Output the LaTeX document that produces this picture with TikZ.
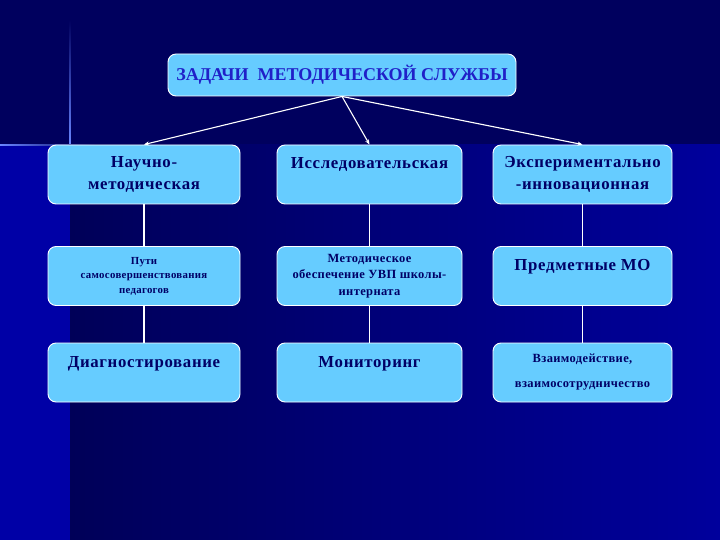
\documentclass[tikz,border=0pt]{standalone}
\usepackage{fontspec}
\setmainfont{Liberation Serif}
\usetikzlibrary{arrows.meta,positioning}
\definecolor{navytop}{HTML}{00005E}
\definecolor{navyleft}{HTML}{000058}
\definecolor{navyright}{HTML}{00009C}
\definecolor{stripblue}{HTML}{0000A6}
\definecolor{glowblue}{HTML}{6A86FF}
\definecolor{boxfill}{HTML}{66CCFF}
\definecolor{boxtext}{HTML}{000066}
\definecolor{titletext}{HTML}{2020C8}
\tikzset{
  task/.style={draw=white, line width=0.9pt, fill=boxfill, rounded corners=8pt, align=center,
    text=boxtext, inner sep=2pt, minimum height=59pt},
  colA/.style={task, minimum width=192pt},
  colB/.style={task, minimum width=185pt},
  colC/.style={task, minimum width=179pt},
  bigtxt/.style={font=\bfseries\fontsize{16.8}{22}\selectfont\addfontfeature{LetterSpace=4}},
  midtxt/.style={font=\bfseries\fontsize{12.5}{16.5}\selectfont\addfontfeature{LetterSpace=3}},
  tinytxt/.style={font=\bfseries\fontsize{10.8}{14.5}\selectfont\addfontfeature{LetterSpace=3}},
  link/.style={draw=white, line width=1.1pt},
  arrow/.style={link, -{Stealth[length=5pt,width=4pt]}}
}

\begin{document}
\begin{tikzpicture}[x=1pt,y=-1pt]
  % background
  \fill[navytop] (0,0) rectangle (720,145);
  \fill[stripblue] (0,145) rectangle (70,540);
  \shade[left color=navyleft, right color=navyright] (70,145) rectangle (720,540);
  \shade[top color=navytop, bottom color=glowblue] (69.2,20) rectangle (70.8,145);
  \shade[left color=glowblue, right color=navytop] (0,144.2) rectangle (95,145.8);
  \useasboundingbox (0,0) rectangle (720,540);

  \node[task, minimum width=348pt, minimum height=42pt, text=titletext,
    font=\bfseries\fontsize{18}{20}\selectfont] (title) at (342,75) {ЗАДАЧИ\ \ МЕТОДИЧЕСКОЙ СЛУЖБЫ};

  \node[colA, bigtxt] (nauch) at (144,174.5) {Научно-\\методическая};
  \node[colB, bigtxt] (issl) at (369.5,174.5) {Исследовательская\\\mbox{}};
  \node[colC, bigtxt] (eksp) at (582.5,174.5) {Экспериментально\\-инновационная};

  \node[colA, tinytxt] (puti) at (144,276) {Пути\\самосовершенствования\\педагогов};
  \node[colB, midtxt] (obesp) at (369.5,276) {Методическое\\обеспечение УВП школы-\\интерната};
  \node[colC, bigtxt] (predm) at (582.5,276) {Предметные МО\\\mbox{}};

  \node[colA, bigtxt] (diagn) at (144,372.5) {Диагностирование\\\mbox{}};
  \node[colB, bigtxt] (monit) at (369.5,372.5) {Мониторинг\\\mbox{}};
  \node[colC, font=\bfseries\fontsize{12.5}{25}\selectfont\addfontfeature{LetterSpace=3}] (vzaim) at (582.5,372.5) {Взаимодействие,\\взаимосотрудничество};

  \draw[arrow] (title.south) -- (nauch.north);
  \draw[arrow] (title.south) -- (issl.north);
  \draw[arrow] (title.south) -- (eksp.north);

  \draw[link] (nauch) -- (puti);
  \draw[link] (puti) -- (diagn);
  \draw[link] (issl) -- (obesp);
  \draw[link] (obesp) -- (monit);
  \draw[link] (eksp) -- (predm);
  \draw[link] (predm) -- (vzaim);
\end{tikzpicture}
\end{document}
